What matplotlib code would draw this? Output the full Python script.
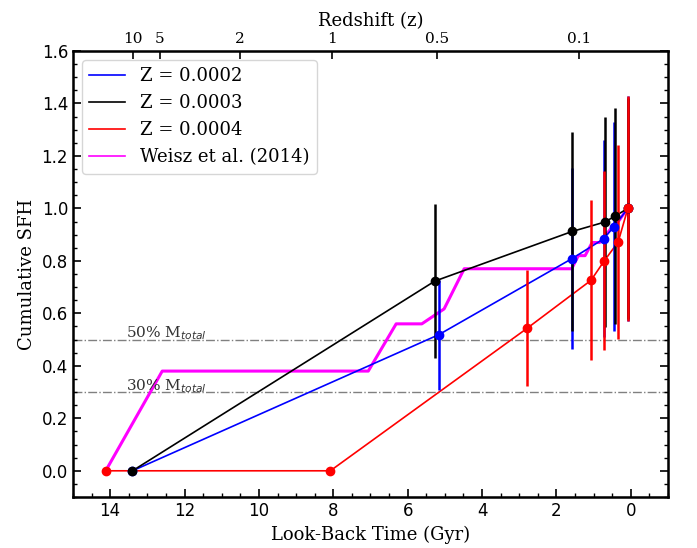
import numpy as np
import matplotlib
matplotlib.use("Agg")
import matplotlib.pyplot as plt
from matplotlib.lines import Line2D
from matplotlib.ticker import MultipleLocator

# look-back time (Gyr) and cumulative SFH for each metallicity
t_z2 = [13.40, 5.16, 1.59, 0.73, 0.45, 0.08]
sfh_z2 = [0.0, 0.519, 0.808, 0.884, 0.931, 1.0]
err_z2 = [0.0, 0.21, 0.345, 0.375, 0.40, 0.43]

t_z3 = [13.40, 5.27, 1.58, 0.70, 0.42, 0.08]
sfh_z3 = [0.0, 0.723, 0.912, 0.948, 0.971, 1.0]
err_z3 = [0.0, 0.295, 0.38, 0.40, 0.41, 0.42]

t_z4 = [14.12, 8.08, 2.78, 1.07, 0.71, 0.34, 0.08]
sfh_z4 = [0.0, 0.0, 0.544, 0.726, 0.801, 0.872, 1.0]
err_z4 = [0.0, 0.0, 0.222, 0.305, 0.34, 0.37, 0.43]

# Weisz et al. (2014)
t_w = [14.12, 12.60, 7.06, 6.31, 5.62, 5.02, 4.48, 1.59, 1.41, 1.23, 1.04, 0.84, 0.71, 0.52, 0.31, 0.09]
sfh_w = [0.0, 0.38, 0.38, 0.56, 0.56, 0.617, 0.77, 0.77, 0.82, 0.82, 0.87, 0.87, 0.893, 0.925, 0.955, 1.0]

# redshift ticks on top axis (look-back time positions)
z_labels = ['10', '5', '2', '1', '0.5', '0.1']
z_lookback = [13.38, 12.66, 10.52, 8.04, 5.20, 1.40]

fig = plt.figure(figsize=(6.97, 5.48), dpi=100)
ax = fig.add_axes([0.1047, 0.093, 0.8537, 0.814])

ax.axhline(0.5, ls='-.', color='gray', lw=1, zorder=1)
ax.axhline(0.3, ls='-.', color='gray', lw=1, zorder=1)
ax.text(13.58, 0.508, '50% M$_{total}$', fontsize=11, family='DejaVu Serif', color='#333333')
ax.text(13.58, 0.308, '30% M$_{total}$', fontsize=11, family='DejaVu Serif', color='#333333')

ax.plot(t_w, sfh_w, color='#ff00ff', lw=2.2, zorder=2)

for t, s, e, c in [(t_z2, sfh_z2, err_z2, 'blue'),
                   (t_z3, sfh_z3, err_z3, 'black'),
                   (t_z4, sfh_z4, err_z4, 'red')]:
    ax.plot(t, s, color=c, lw=1.2, zorder=3)
    ax.errorbar(t, s, yerr=e, fmt='o', color=c, ms=6, elinewidth=1.8, capsize=0, zorder=4)

handles = [Line2D([], [], color='blue', lw=1.2),
           Line2D([], [], color='black', lw=1.2),
           Line2D([], [], color='red', lw=1.2),
           Line2D([], [], color='#ff00ff', lw=1.2)]
labels = ['Z = 0.0002', 'Z = 0.0003', 'Z = 0.0004', 'Weisz et al. (2014)']
ax.legend(handles, labels, loc='upper left', prop={'family': 'DejaVu Serif', 'size': 13})

ax.set_xlim(15, -1)
ax.set_ylim(-0.1, 1.6)
ax.xaxis.set_major_locator(MultipleLocator(2))
ax.xaxis.set_minor_locator(MultipleLocator(0.5))
ax.yaxis.set_major_locator(MultipleLocator(0.2))
ax.yaxis.set_minor_locator(MultipleLocator(0.05))
ax.tick_params(which='both', direction='in', right=True, top=False, labelsize=12)
ax.tick_params(which='major', length=6, width=1.2)
ax.tick_params(which='minor', length=3, width=1)
for sp in ax.spines.values():
    sp.set_linewidth(1.8)

ax.set_xlabel('Look-Back Time (Gyr)', family='DejaVu Serif', fontsize=13)
ax.set_ylabel('Cumulative SFH', family='DejaVu Serif', fontsize=13)

ax2 = ax.twiny()
ax2.set_xlim(ax.get_xlim())
ax2.set_xticks(z_lookback)
ax2.set_xticklabels(z_labels, family='DejaVu Serif', fontsize=11)
ax2.tick_params(direction='in', length=6, width=1.2)
ax2.set_xlabel('Redshift (z)', family='DejaVu Serif', fontsize=13)

fig.savefig('out.png', dpi=100)
